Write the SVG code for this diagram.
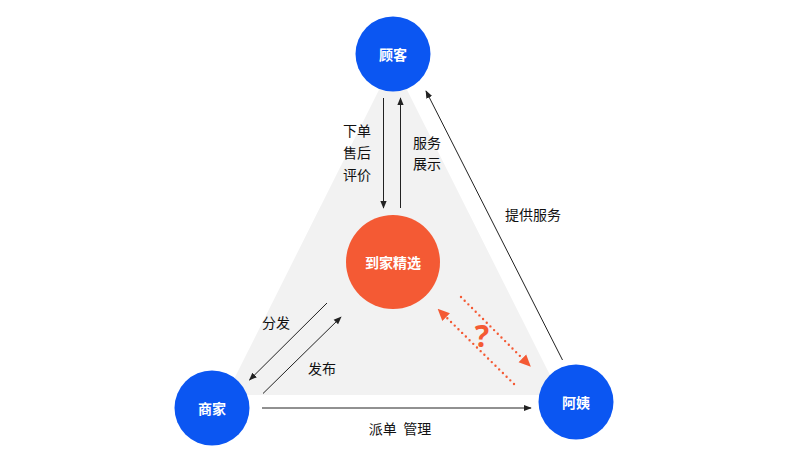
<svg xmlns="http://www.w3.org/2000/svg" width="792" height="460" viewBox="0 0 792 460">
<style>
.node-b{fill:#0b56f2}
.node-o{fill:#f45a34}
.nt{font-family:"Noto Sans CJK SC","Noto Sans",sans-serif;font-size:14px;font-weight:bold;fill:#fff;text-anchor:middle;dominant-baseline:central}
.lb{font-family:"Noto Sans CJK SC","Noto Sans",sans-serif;font-size:14px;fill:#111;text-anchor:middle;dominant-baseline:central}
.ln{stroke:#222;stroke-width:1;fill:none}
.dot{stroke:#f45a34;stroke-width:2.4;stroke-linecap:round;stroke-dasharray:0 5.2;fill:none}
</style>
<defs>
<marker id="ah" viewBox="0 0 10 10" refX="9" refY="5" markerWidth="8" markerHeight="8" markerUnits="userSpaceOnUse" orient="auto">
<path d="M0,1 L10,5 L0,9 Z" fill="#222"/>
</marker>
<marker id="aho" viewBox="0 0 10 10" refX="9" refY="5" markerWidth="12" markerHeight="12" markerUnits="userSpaceOnUse" orient="auto">
<path d="M0,0.5 L10,5 L0,9.5 Z" fill="#f45a34"/>
</marker>
</defs>
<rect width="792" height="460" fill="#fff"/>
<polygon points="393,62 226,395 560,395" fill="#f2f2f2"/>
<g id="connectors">
<line class="ln" x1="383.5" y1="98" x2="383.5" y2="208" marker-end="url(#ah)"/>
<line class="ln" x1="400.5" y1="208" x2="400.5" y2="98" marker-end="url(#ah)"/>
<line class="ln" x1="562.5" y1="360" x2="426" y2="91" marker-end="url(#ah)"/>
<line class="ln" x1="327" y1="303" x2="249.5" y2="380" marker-end="url(#ah)"/>
<line class="ln" x1="263" y1="393.5" x2="341" y2="317" marker-end="url(#ah)"/>
<line class="ln" x1="262" y1="408" x2="531" y2="408" marker-end="url(#ah)"/>
<line class="dot" x1="461" y1="297" x2="524" y2="360"/>
<line x1="520" y1="356" x2="530" y2="366" stroke="none" marker-end="url(#aho)"/>
<line class="dot" x1="514" y1="384" x2="445" y2="316"/>
<line x1="448" y1="319" x2="438.5" y2="309.5" stroke="none" marker-end="url(#aho)"/>
<text class="lb" x="357" y="130">下单</text>
<text class="lb" x="357" y="152">售后</text>
<text class="lb" x="357" y="174">评价</text>
<text class="lb" x="427" y="142">服务</text>
<text class="lb" x="427" y="163">展示</text>
<text class="lb" x="533" y="214">提供服务</text>
<text class="lb" x="276" y="322">分发</text>
<text class="lb" x="322" y="368">发布</text>
<text class="lb" x="400" y="428" xml:space="preserve">派单  管理</text>
<text x="482" y="347" font-family="Noto Sans,sans-serif" font-size="30" font-weight="bold" fill="#f45a34" text-anchor="middle">?</text>
</g>
<g id="node-guke">
<circle class="node-b" cx="393" cy="54" r="37.5"/>
<text class="nt" x="393" y="54">顾客</text>
</g>
<g id="node-daojia">
<circle class="node-o" cx="393" cy="262" r="47"/>
<text class="nt" x="393" y="262">到家精选</text>
</g>
<g id="node-shangjia">
<circle class="node-b" cx="212" cy="408" r="37.5"/>
<text class="nt" x="212" y="408">商家</text>
</g>
<g id="node-ayi">
<circle class="node-b" cx="576" cy="402" r="37.5"/>
<text class="nt" x="576" y="402">阿姨</text>
</g>
</svg>
